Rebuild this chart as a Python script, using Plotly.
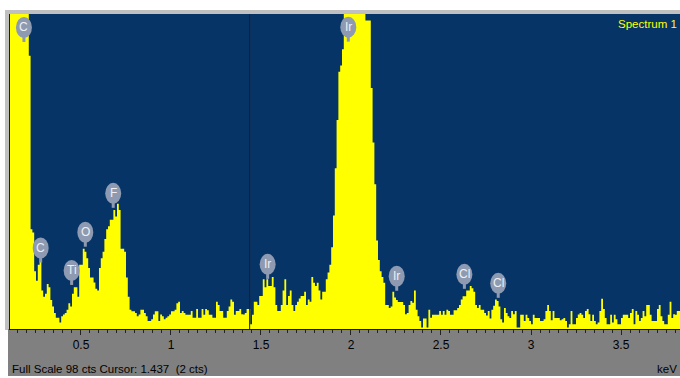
import plotly.graph_objects as go

# EDS spectrum: 10 eV channels starting at 0.10 keV
channel_start_kev = 0.10
channel_width_kev = 0.01
counts = [
    140, 190, 235, 260, 270, 262, 240, 210, 180, 150,
    120, 85, 31, 30, 18, 15, 20, 21, 12, 10,
    11, 14, 13, 9, 7, 5, 3.5, 3.5, 2, 4,
    4.5, 5, 6, 8, 7, 11, 13, 13, 10, 20,
    20, 25, 24, 22, 19, 16, 16, 14.5, 12.5, 12,
    19, 22, 24, 28, 31, 32, 34, 34, 37, 35,
    39, 37, 25, 25, 24, 16, 10, 6, 5.5, 5.5,
    5, 4, 4.5, 6, 6, 5, 4, 2.5, 2.5, 3,
    4.5, 5.5, 5.5, 2.5, 4.5, 4, 3, 3.5, 4, 4.5,
    5.5, 5.5, 6, 8, 8.5, 5, 5.6, 5, 4.4, 4.4,
    4.4, 5.6, 3.5, 3.5, 6.2, 3.5, 3.5, 6.2, 4.4, 6.2,
    5.8, 4.4, 4.4, 3.5, 3.5, 8.5, 7.5, 5.6, 5.6, 3.5,
    3.5, 5.6, 7, 9.2, 8.5, 4.4, 5.6, 5.6, 6.2, 4.6,
    4.5, 5, 6.2, 6.2, 1.5, 4.4, 8.5, 8.5, 7.5, 10.3,
    10.3, 15.5, 13, 15.5, 13.4, 13.4, 16.2, 13, 7.5, 5.6,
    5.6, 7.5, 12, 15.5, 7.5, 10.3, 12, 7.5, 5.6, 7.5,
    8.5, 9.5, 10.3, 10.3, 11.6, 7.5, 9.2, 8.5, 16.2, 14.4,
    13.4, 14.4, 12, 9.2, 11.6, 11.6, 15.5, 17.6, 20, 25.4,
    35.3, 50, 65, 80, 82, 87, 110, 130, 150, 165,
    175, 180, 178, 170, 155, 140, 120, 105, 96, 96,
    96, 75, 58, 45, 27.5, 21.5, 18, 16.2, 14.4, 7.5,
    7.5, 6.5, 7, 11.6, 9.8, 9, 8.4, 8.4, 8.4, 7.5,
    4.6, 5, 7.5, 8.7, 8.2, 12, 6, 4, 2.5, 0.5,
    3.3, 3.3, 0.5, 6, 3.5, 4.4, 4.4, 4.4, 4.4, 5.6,
    4.4, 5.6, 4.4, 6, 5.6, 4.4, 4.4, 5.8, 5.8, 6.5,
    7.5, 9.2, 10.2, 10.2, 12, 12, 13.4, 12.7, 11.6, 7.5,
    6.5, 7.5, 6, 6, 5, 4.2, 5.6, 3.3, 6, 7.2,
    9.2, 8.7, 7, 3, 2, 6.5, 5, 4, 3.4, 5.6,
    4.6, 5.6, 0.5, 0.5, 4.4, 4.4, 2.5, 4.4, 3.4, 2.5,
    1.5, 4.4, 3.4, 3.4, 3.4, 2.5, 2.5, 3, 5.6, 7.5,
    5.6, 2.7, 5.6, 3.4, 3.4, 3.4, 2.7, 3, 3.4, 2.5,
    0.5, 1.5, 5.6, 1.5, 1.5, 3.4, 4.5, 5, 4.4, 3.4,
    5.6, 6.2, 4.6, 2.5, 4.4, 2.5, 1.5, 2, 5.6, 9.4,
    6.2, 3.4, 1.5, 1.5, 4.4, 2, 4.4, 3, 1.5, 1.5,
    3.4, 4.4, 4.4, 4.4, 3.4, 5, 6.2, 1.5, 5.6, 4.4,
    2.5, 3.4, 5.6, 4, 7.5, 7.5, 4.4, 2.5, 2.5, 2.5,
    6.2, 7.5, 4, 2.5, 1.5, 1.5, 4.4, 8.5, 3.4, 4.6,
    4.4, 5.6, 5.6, 5,
]

full_scale_cts = 98
cursor_kev = 1.437
cursor_cts = 2
spectrum_name = "Spectrum 1"

# element markers: label, energy (keV), counts at the marker tip
peak_labels = ["C", "C", "Ti", "O", "F", "Ir", "Ir", "Ir", "Cl", "Cl"]
peak_kev = [0.183, 0.276, 0.448, 0.524, 0.679, 1.537, 1.985, 2.254, 2.630, 2.818]
peak_tip_cts = [89.3, 20.7, 13.7, 25.6, 37.7, 15.6, 89.4, 11.9, 12.5, 9.7]

tick_values = [0.5, 1, 1.5, 2, 2.5, 3, 3.5]
tick_labels = ["0.5", "1", "1.5", "2", "2.5", "3", "3.5"]
x_view_kev = [0.1056, 3.8278]

FONT = "Liberation Sans, Arial, sans-serif"
NAVY = "#073466"
YELLOW = "#FFFF00"
BALLOON = "#8D9AB1"
FRAME = "#C0C0C0"

# channel edges for the stepped histogram fill
edges = [channel_start_kev + channel_width_kev * i for i in range(len(counts) + 1)]
steps = counts + [counts[-1]]

fig = go.Figure()
fig.add_trace(go.Scatter(
    x=edges, y=steps, mode="lines", line_shape="hv",
    line=dict(width=0, color=YELLOW), fill="tozeroy", fillcolor=YELLOW,
    hoverinfo="skip", showlegend=False,
))

shapes = [
    # light grey frame: top and left bands around the spectrum window
    dict(type="rect", xref="paper", yref="paper", x0=-5 / 670, x1=1.02,
         y0=1, y1=1 + 4 / 315, fillcolor=FRAME, line_width=0, layer="below"),
    dict(type="rect", xref="paper", yref="paper", x0=-5 / 670, x1=0,
         y0=-1 / 315, y1=1, fillcolor=FRAME, line_width=0, layer="below"),
    # energy scale strip
    dict(type="rect", xref="paper", yref="paper", x0=-2 / 670, x1=1.02,
         y0=-47 / 315, y1=0, fillcolor="#808080", line_width=0, layer="below"),
    # cursor
    dict(type="line", xref="x", yref="paper", x0=cursor_kev, x1=cursor_kev, y0=0, y1=1,
         line=dict(color="#1E1E1E", width=1), layer="above"),
]

annotations = []
for lab, e, tip in zip(peak_labels, peak_kev, peak_tip_cts):
    shapes.append(dict(type="rect", xref="x", yref="y", xsizemode="pixel", ysizemode="pixel",
                       xanchor=e, yanchor=tip, x0=-1.5, x1=1.5, y0=0, y1=6,
                       fillcolor=BALLOON, line_width=0, layer="above"))
    shapes.append(dict(type="circle", xref="x", yref="y", xsizemode="pixel", ysizemode="pixel",
                       xanchor=e, yanchor=tip, x0=-8, x1=8, y0=4, y1=25,
                       fillcolor=BALLOON, line_width=0, layer="above"))
    annotations.append(dict(x=e, y=tip, xref="x", yref="y", text=lab, showarrow=False,
                            yshift=14.5, xanchor="center", yanchor="middle",
                            font=dict(family=FONT, size=12, color="#EEF0F4")))

annotations += [
    dict(xref="paper", yref="paper", x=669 / 670, y=1 - 10 / 315, text=spectrum_name,
         showarrow=False, xanchor="right", yanchor="middle",
         font=dict(family=FONT, size=11.5, color=YELLOW)),
    dict(xref="paper", yref="paper", x=0, y=-40 / 315,
         text=f"Full Scale {full_scale_cts} cts Cursor: {cursor_kev:.3f}\u00a0 ({cursor_cts} cts)",
         showarrow=False, xanchor="left", yanchor="middle",
         font=dict(family=FONT, size=11.5, color="#000000")),
    dict(xref="paper", yref="paper", x=669 / 670, y=-40 / 315, text="keV",
         showarrow=False, xanchor="right", yanchor="middle",
         font=dict(family=FONT, size=11.5, color="#000000")),
]

fig.update_layout(
    width=680, height=378,
    margin=dict(l=10, r=0, t=14, b=49, pad=0),
    paper_bgcolor="#FFFFFF", plot_bgcolor=NAVY,
    shapes=shapes, annotations=annotations, showlegend=False,
    xaxis=dict(range=x_view_kev, showgrid=False, zeroline=False,
               showline=True, linecolor="#1A1A1A", linewidth=1,
               ticks="outside", ticklen=5, tickwidth=1, tickcolor="#222222",
               tickvals=tick_values, ticktext=tick_labels, ticklabelstandoff=0,
               tickfont=dict(family=FONT, size=12, color="#000000"),
               minor=dict(dtick=0.05, tick0=0, ticks="outside", ticklen=3,
                          tickwidth=1, tickcolor="#222222", showgrid=False),
               fixedrange=True),
    yaxis=dict(range=[0, full_scale_cts], showgrid=False, zeroline=False,
               showticklabels=False, ticks="", showline=True,
               linecolor="#1A1A1A", linewidth=1, fixedrange=True),
)

fig.write_html("out.html")
